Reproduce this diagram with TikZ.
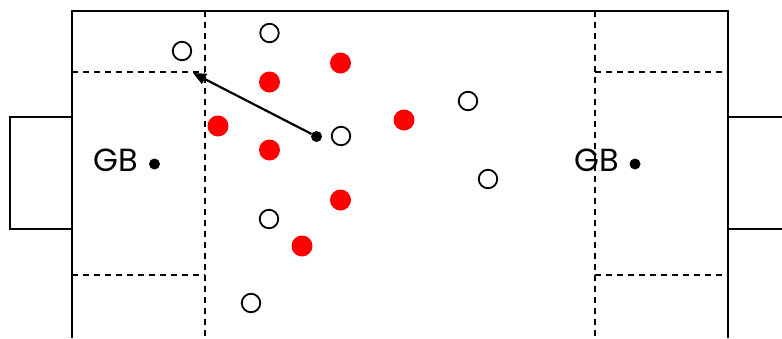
\documentclass[tikz,border=0pt]{standalone}
\usepackage{fontspec}
\setmainfont{Poppins}
\usetikzlibrary{arrows.meta}
\begin{document}
\begin{tikzpicture}[x=1pt,y=-1pt,
  fieldline/.style={line width=2pt},
  zoneline/.style={line width=1.8pt,dash pattern=on 6pt off 5pt},
  openplayer/.style={circle,draw,line width=1.8pt,minimum size=18.5pt,inner sep=0pt},
  redplayer/.style={circle,fill=red,minimum size=21pt,inner sep=0pt},
  blackdot/.style={circle,fill=black,minimum size=11pt,inner sep=0pt},
  gblabel/.style={anchor=base,inner sep=0pt,font=\fontsize{32}{36}\selectfont},
  pass/.style={line width=2.2pt,-{Triangle[length=13pt,width=11pt]}}]
\useasboundingbox (0,0) rectangle (782,338);
% field
\draw[fieldline] (72,338) -- (72,11) -- (728,11) -- (728,338);
% goals
\draw[fieldline] (72,117) -- (10,117) -- (10,229) -- (72,229);
\draw[fieldline] (728,117) -- (790,117);
\draw[fieldline] (728,229) -- (790,229);
% zones
\draw[zoneline] (205,11) -- (205,338);
\draw[zoneline] (72,72) -- (205,72);
\draw[zoneline] (72,275) -- (205,275);
\draw[zoneline] (595,11) -- (595,338);
\draw[zoneline] (595,72) -- (728,72);
\draw[zoneline] (595,275) -- (728,275);
% goalkeepers
\node[blackdot] (gkl) at (154.5,164) {};
\node[gblabel] (gbl) at (115.5,171) {GB};
\node[blackdot] (gkr) at (635,164) {};
\node[gblabel] (gbr) at (596.5,171) {GB};
% open players
\node[openplayer] (o1) at (182,51) {};
\node[openplayer] (o2) at (269.5,33) {};
\node[openplayer] (o3) at (341,136) {};
\node[openplayer] (o4) at (269,219) {};
\node[openplayer] (o5) at (251,303) {};
\node[openplayer] (o6) at (468,101) {};
\node[openplayer] (o7) at (488,179) {};
% red players
\node[redplayer] (r1) at (340.5,63) {};
\node[redplayer] (r2) at (269.5,82) {};
\node[redplayer] (r3) at (218,126) {};
\node[redplayer] (r4) at (269.5,150) {};
\node[redplayer] (r5) at (404,120) {};
\node[redplayer] (r6) at (340.5,200) {};
\node[redplayer] (r7) at (302,246) {};
% ball and pass
\node[blackdot] (ball) at (316.5,136.5) {};
\coordinate (target) at (193,73);
\draw[pass] (ball) -- (target);
\end{tikzpicture}
\end{document}
